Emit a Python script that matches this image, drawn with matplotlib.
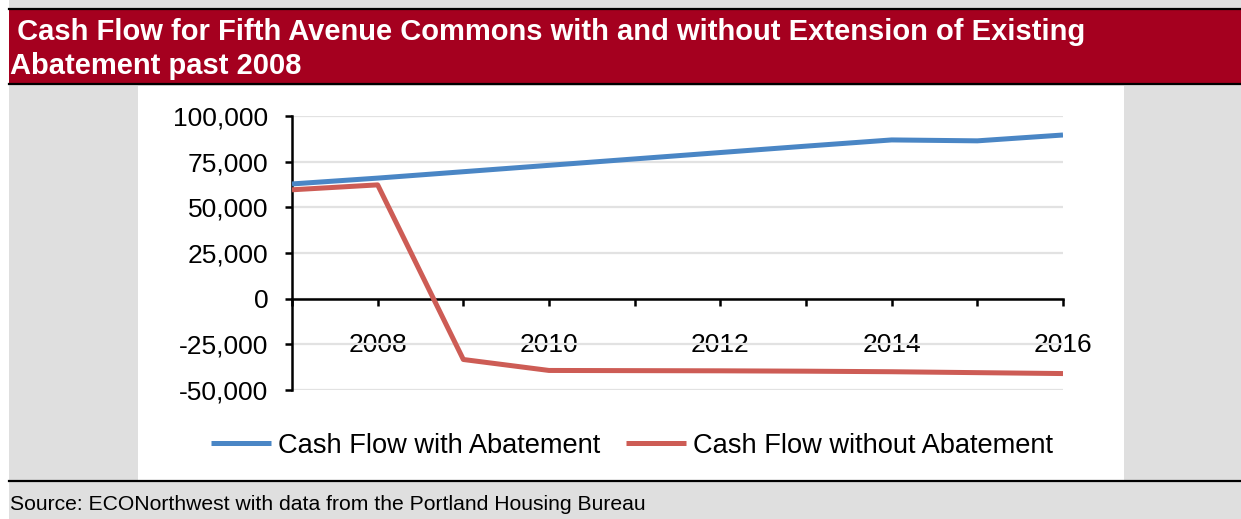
import matplotlib.pyplot as plt
from matplotlib.patches import Rectangle
from matplotlib.lines import Line2D
from matplotlib.ticker import FuncFormatter

plt.rcParams['font.family'] = ['Liberation Sans', 'DejaVu Sans']

# data
years = [2007, 2008, 2009, 2010, 2011, 2012, 2013, 2014, 2015, 2016]
with_abatement = [62800, 66000, 69500, 73000, 76500, 80000, 83500, 86900, 86400, 89600]
without_abatement = [59600, 62300, -33300, -39300, -39400, -39500, -39700, -40000, -40500, -41000]
year_labels = ['', '2008', '', '2010', '', '2012', '', '2014', '', '2016']
y_ticks = [-50000, -25000, 0, 25000, 50000, 75000, 100000]

BLUE = '#4A86C5'
RED = '#CD5C55'
BANNER = '#A5001F'
GREY = '#DFDFDF'

W, H = 1241, 519
fig = plt.figure(figsize=(W / 100, H / 100), dpi=100)
fig.patch.set_facecolor('white')


def px(x, y, w, h):
    # pixel box (top-left origin) -> figure fraction rectangle
    return (x / W, 1 - (y + h) / H), w / W, h / H


def box(x, y, w, h, color):
    xy, fw, fh = px(x, y, w, h)
    fig.patches.append(Rectangle(xy, fw, fh, transform=fig.transFigure,
                                 facecolor=color, edgecolor='none', zorder=-10))


def hline(y):
    fig.add_artist(Line2D([9 / W, 1], [1 - y / H] * 2, color='black', lw=1.6,
                          transform=fig.transFigure, zorder=-5))


# background layout
box(9, 0, W - 9, H, GREY)
box(9, 10, W - 9, 73, BANNER)
box(138, 86, 986, 394, 'white')
hline(8.5)
hline(83.5)
hline(481)

fig.text(9 / W, 1 - 39.5 / H, ' Cash Flow for Fifth Avenue Commons with and without Extension of Existing',
         color='white', fontsize=21, fontweight='bold', ha='left', va='baseline')
fig.text(10 / W, 1 - 74.5 / H, 'Abatement past 2008',
         color='white', fontsize=21, fontweight='bold', ha='left', va='baseline')
fig.text(10 / W, 1 - 510 / H, 'Source: ECONorthwest with data from the Portland Housing Bureau',
         color='black', fontsize=15.2, ha='left', va='baseline')

# plot area
ax = fig.add_axes([292 / W, 1 - 390 / H, (1063 - 292) / W, (390 - 116) / H], zorder=2)
ax.set_facecolor('none')
ax.plot(years, with_abatement, color=BLUE, lw=3.6, solid_capstyle='butt',
        label='Cash Flow with Abatement', zorder=3)
ax.plot(years, without_abatement, color=RED, lw=3.6, solid_capstyle='butt',
        label='Cash Flow without Abatement', zorder=3)

ax.set_xlim(years[0], years[-1])
ax.set_ylim(-50000, 100000)
ax.set_yticks(y_ticks)
ax.yaxis.set_major_formatter(FuncFormatter(lambda v, p: f'{v:,.0f}'))
ax.set_xticks(years)
ax.set_xticklabels(year_labels)
ax.grid(axis='y', color='#E2E2E2', lw=1.6, zorder=0)
ax.set_axisbelow(True)

for s in ['top', 'right']:
    ax.spines[s].set_visible(False)
ax.spines['bottom'].set_position(('data', 0))
ax.spines['left'].set_linewidth(1.8)
ax.spines['bottom'].set_linewidth(1.8)
ax.tick_params(axis='y', direction='out', length=5, width=1.8, pad=12, labelsize=19)
ax.tick_params(axis='x', direction='out', length=5, width=1.8, pad=20, labelsize=19)

leg = fig.legend(loc='center', bbox_to_anchor=(632 / W, 1 - 446 / H), ncol=2, frameon=False,
                 fontsize=19.6, handlelength=2.2, handletextpad=0.25, columnspacing=0.95)
leg.set_zorder(3)

fig.savefig('out.png', dpi=100)
